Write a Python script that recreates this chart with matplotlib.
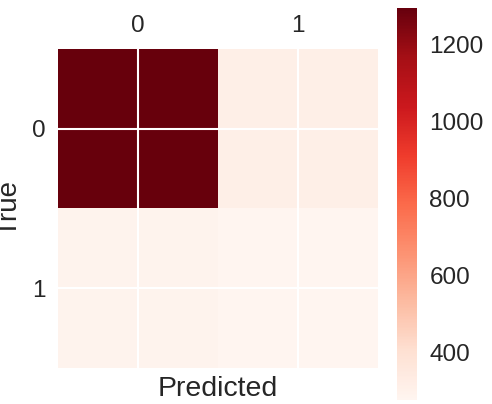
import numpy as np
import matplotlib.pyplot as plt

# confusion matrix values (rows: true, cols: predicted)
labels = ['0', '1']
row_true0 = [1296, 312]
row_true1 = [290, 276]

cm = np.array([row_true0, row_true1])

plt.rcParams['font.family'] = ['Liberation Sans', 'DejaVu Sans']
plt.rcParams['font.size'] = 17.5

fig = plt.figure(figsize=(4.92, 4.04), dpi=100)
ax = fig.add_axes([58 / 492, 1 - 368 / 404, 320 / 492, 319 / 404])
cax = fig.add_axes([397 / 492, 1 - 400 / 404, 20 / 492, 392 / 404])

im = ax.matshow(cm, cmap='Reds', aspect='auto')
ax.set_xticks(range(len(labels)))
ax.set_yticks(range(len(labels)))
ax.set_xticklabels(labels, color='#262626')
ax.set_yticklabels(labels, color='#262626')
ax.tick_params(length=0, pad=9)
ax.grid(True, color='white', linewidth=1.5)
ax.set_axisbelow(False)
for s in ax.spines.values():
    s.set_visible(False)
ax.set_xlabel('Predicted', fontsize=20.5, color='#262626', labelpad=6)
ax.set_ylabel('True', fontsize=20, color='#262626')
ax.yaxis.set_label_coords(-0.112, 0.5)

cb = fig.colorbar(im, cax=cax)
cb.outline.set_visible(False)
cb.ax.tick_params(length=0, pad=9, labelcolor='#262626')

fig.savefig('out.png', dpi=100)
